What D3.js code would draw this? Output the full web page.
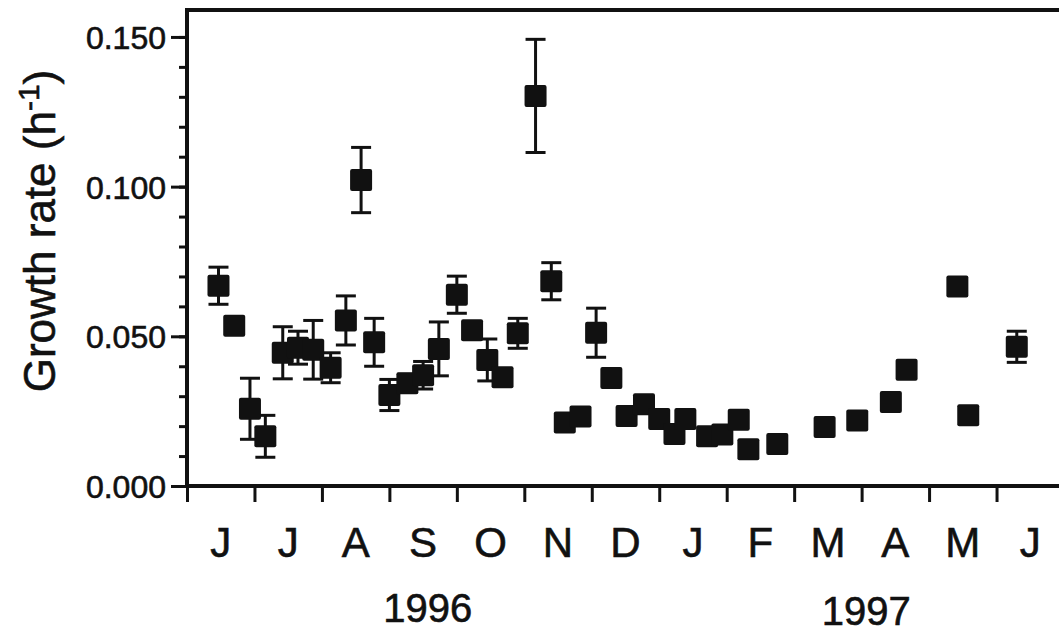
<!DOCTYPE html>
<html>
<head>
<meta charset="utf-8">
<script src="https://cdn.jsdelivr.net/npm/d3@7"></script>
<style>
  body { margin: 0; background: #fff; }
  text { font-family: "Liberation Sans", Arial, Helvetica, sans-serif; fill: #111; stroke: #111; stroke-width: 0.6px; }
</style>
</head>
<body>
<svg id="chart" width="1059" height="635"></svg>
<script>
// sampling dates, growth rate (h-1) and error (half bar height)
const sampleDates = [
  '1996-06-15', '1996-06-22', '1996-06-29', '1996-07-06', '1996-07-14', '1996-07-21', '1996-07-28',
  '1996-08-05', '1996-08-12', '1996-08-19', '1996-08-25', '1996-09-01', '1996-09-09', '1996-09-16',
  '1996-09-23', '1996-10-01', '1996-10-08', '1996-10-15', '1996-10-22', '1996-10-29', '1996-11-06',
  '1996-11-13', '1996-11-19', '1996-11-26', '1996-12-03', '1996-12-10', '1996-12-17', '1996-12-25',
  '1997-01-01', '1997-01-08', '1997-01-13', '1997-01-23', '1997-01-30', '1997-02-06', '1997-02-10',
  '1997-02-22', '1997-03-15', '1997-03-30', '1997-04-14', '1997-04-21', '1997-05-14', '1997-05-19',
  '1997-06-10'
];
const growthRate = [
  0.0669, 0.0535, 0.0258, 0.0166, 0.0445, 0.0462, 0.0455,
  0.0395, 0.0553, 0.1022, 0.0480, 0.0304, 0.0343, 0.0370,
  0.0458, 0.0639, 0.0520, 0.0421, 0.0363, 0.0510, 0.1303,
  0.0684, 0.0212, 0.0232, 0.0512, 0.0361, 0.0234, 0.0273,
  0.0224, 0.0174, 0.0224, 0.0166, 0.0172, 0.0221, 0.0123,
  0.0140, 0.0197, 0.0219, 0.0281, 0.0388, 0.0666, 0.0236,
  0.0465
];
const growthErr = [
  0.0062, 0, 0.0102, 0.0070, 0.0087, 0.0055, 0.0098,
  0.0050, 0.0082, 0.0109, 0.0080, 0.0052, 0.0030, 0.0046,
  0.0090, 0.0062, 0, 0.0070, 0, 0.0050, 0.0189,
  0.0062, 0, 0, 0.0082, 0, 0, 0,
  0, 0, 0, 0, 0, 0, 0,
  0, 0, 0, 0, 0, 0, 0,
  0.0052
];
const monthLabels = ['J', 'J', 'A', 'S', 'O', 'N', 'D', 'J', 'F', 'M', 'A', 'M', 'J'];
const yearLabels = ['1996', '1997'];
const yTickValues = [0, 0.05, 0.1, 0.15];

const svg = d3.select('#chart');
const margin = { left: 187, top: 10, bottom: 486, right: 1064 };
const ink = '#111';

const parse = d3.timeParse('%Y-%m-%d');
const start = new Date(1996, 5, 1);
function monthIndex(date) {
  const m0 = d3.timeMonth.floor(date);
  const m1 = d3.timeMonth.offset(m0, 1);
  return d3.timeMonth.count(start, m0) + (date - m0) / (m1 - m0);
}

const data = sampleDates.map((d, i) => ({
  m: monthIndex(parse(d)),
  v: growthRate[i],
  e: growthErr[i]
}));

const x = d3.scaleLinear().domain([0, monthLabels.length]).range([margin.left, margin.right]);
const y = d3.scaleLinear().domain([0, 0.159]).range([margin.bottom, margin.top]);

// y axis: major + minor ticks
const yMinor = d3.range(0, 0.1595, 0.01);
svg.append('g')
  .attr('transform', `translate(${margin.left},0)`)
  .call(d3.axisLeft(y).tickValues(yMinor).tickSize(8).tickFormat(''))
  .call(g => g.select('.domain').remove())
  .call(g => g.selectAll('line').attr('stroke', ink).attr('stroke-width', 3));

svg.append('g')
  .attr('transform', `translate(${margin.left},0)`)
  .call(d3.axisLeft(y).tickValues(yTickValues).tickSize(16).tickPadding(5).tickFormat(d3.format('.3f')))
  .call(g => g.select('.domain').remove())
  .call(g => g.selectAll('line').attr('stroke', ink).attr('stroke-width', 3))
  .call(g => g.selectAll('text').attr('font-size', 32).attr('dy', '0.36em'));

// x axis: month boundaries
svg.append('g')
  .attr('transform', `translate(0,${margin.bottom})`)
  .call(d3.axisBottom(x).tickValues(d3.range(0, monthLabels.length + 1)).tickSize(16).tickFormat(''))
  .call(g => g.select('.domain').remove())
  .call(g => g.selectAll('line').attr('stroke', ink).attr('stroke-width', 3));

svg.append('g')
  .selectAll('text')
  .data(monthLabels)
  .join('text')
  .attr('x', (d, i) => x(i + 0.5))
  .attr('y', 557)
  .attr('text-anchor', 'middle')
  .attr('font-size', 42)
  .text(d => d);

// year labels
const yearPos = [3.57, 10.07];
svg.append('g')
  .selectAll('text')
  .data(yearLabels)
  .join('text')
  .attr('x', (d, i) => x(yearPos[i]))
  .attr('y', (d, i) => (i === 0 ? 622 : 625))
  .attr('text-anchor', 'middle')
  .attr('font-size', 40)
  .text(d => d);

// frame: left, bottom, top
const frame = svg.append('g').attr('stroke', ink).attr('stroke-width', 4);
frame.append('line').attr('x1', margin.left).attr('x2', margin.left).attr('y1', margin.top - 2).attr('y2', margin.bottom + 2);
frame.append('line').attr('x1', margin.left).attr('x2', margin.right).attr('y1', margin.bottom).attr('y2', margin.bottom);
frame.append('line').attr('x1', margin.left).attr('x2', margin.right).attr('y1', margin.top).attr('y2', margin.top);

// y label
const ylab = svg.append('text')
  .attr('transform', 'translate(55,231) rotate(-90)')
  .attr('text-anchor', 'middle')
  .attr('font-size', 44);
ylab.append('tspan').text('Growth rate (h');
ylab.append('tspan').attr('font-size', 30).attr('dy', -16).text('-1');
ylab.append('tspan').attr('dy', 16).text(')');

// error bars
const capW = 10;
const bars = svg.append('g').attr('stroke', ink).attr('stroke-width', 3);
data.filter(d => d.e > 0).forEach(d => {
  const cx = x(d.m);
  bars.append('line').attr('x1', cx).attr('x2', cx).attr('y1', y(d.v + d.e)).attr('y2', y(d.v - d.e));
  bars.append('line').attr('x1', cx - capW).attr('x2', cx + capW).attr('y1', y(d.v + d.e)).attr('y2', y(d.v + d.e));
  bars.append('line').attr('x1', cx - capW).attr('x2', cx + capW).attr('y1', y(d.v - d.e)).attr('y2', y(d.v - d.e));
});

// markers
const size = 22;
svg.append('g')
  .selectAll('rect')
  .data(data)
  .join('rect')
  .attr('x', d => x(d.m) - size / 2)
  .attr('y', d => y(d.v) - size / 2)
  .attr('width', size)
  .attr('height', size)
  .attr('rx', 2)
  .attr('fill', ink);
</script>
</body>
</html>
